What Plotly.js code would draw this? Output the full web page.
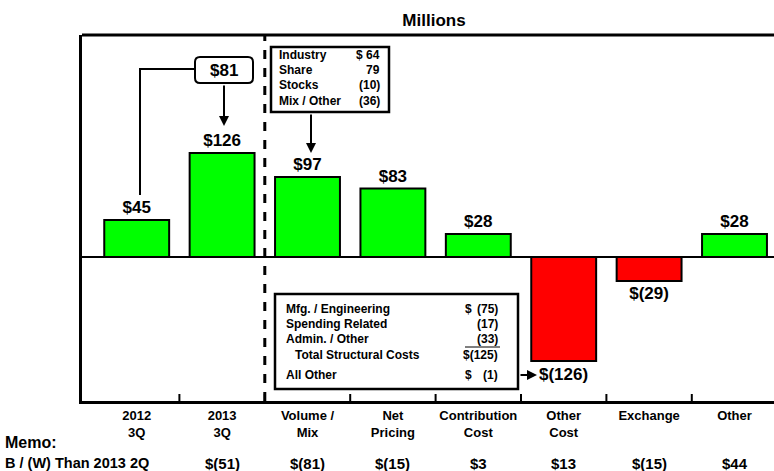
<!DOCTYPE html>
<html>
<head>
<meta charset="utf-8">
<script src="https://cdn.plot.ly/plotly-3.0.1.min.js"></script>
<style>html,body{margin:0;padding:0;background:#fff;}#chart{width:774px;height:471px;}</style>
</head>
<body>
<div id="chart"></div>
<script>
// ---- data ----
const categories = ['2012<br>3Q', '2013<br>3Q', 'Volume /<br>Mix', 'Net<br>Pricing', 'Contribution<br>Cost', 'Other<br>Cost', 'Exchange', 'Other'];
const values = [45, 126, 97, 83, 28, -126, -29, 28];
const memoLabel = 'B / (W) Than 2013 2Q';
const memoValues = [null, -51, -81, -15, 3, 13, -15, 44];
const changeCallout = 81;
const volumeLabels = ['Industry', 'Share', 'Stocks', 'Mix / Other'];
const volumeValues = ['$ 64', '79', '(10)', '(36)'];
const costLabels = ['Mfg. / Engineering', 'Spending Related', 'Admin. / Other', 'Total Structural Costs', 'All Other'];
const costValues = ['(75)', '(17)', '(33)', '$(125)', '(1)'];
const costDollar = [true, false, false, false, true];

// ---- helpers ----
const fmt = v => v < 0 ? '$(' + Math.abs(v) + ')' : '$' + v;
const FONT = 'Arial, "Liberation Sans", sans-serif';
const B = s => '<b>' + s + '</b>';

// pixel helpers for decorations (plot area: x 82..774, y 35..401)
const PX0 = 136.7, PXS = 85.4;           // category 0 centre, spacing
const Y0 = 257, YS = 0.825;                // zero line pixel, px per unit
const dx = px => (px - PX0) / PXS;
const dy = py => (Y0 - py) / YS;

const otherCostIdx = 5;
const textPos = values.map((v, i) => i === otherCostIdx ? 'none' : 'outside');

const trace = {
  type: 'bar',
  x: categories,
  y: values,
  width: 0.76,
  marker: {
    color: values.map(v => v >= 0 ? '#00FF00' : '#FF0000'),
    line: {color: '#000', width: 2}
  },
  text: values.map(v => B(fmt(v))),
  textposition: textPos,
  textfont: {family: FONT, size: 17, color: '#000'},
  cliponaxis: false,
  hoverinfo: 'none'
};

const shapes = [];
const annotations = [];

// top border
shapes.push({type: 'line', xref: 'paper', yref: 'paper', x0: 0, x1: 1, y0: 1, y1: 1, line: {color: '#000', width: 3}});
// dashed divider between 2013 3Q and Volume/Mix
shapes.push({type: 'line', xref: 'x', yref: 'paper', x0: 1.5, x1: 1.5, y0: 0, y1: 1, line: {color: '#000', width: 3, dash: 'dash'}});
// category boundary ticks (pointing up from the axis)
categories.slice(1).forEach((c, i) => {
  shapes.push({type: 'line', xref: 'x', yref: 'paper', x0: i + 0.5, x1: i + 0.5, y0: 0, y1: 7 / 366, line: {color: '#000', width: 2}});
});

// $81 callout: connector from 2012 bar up and across
shapes.push({type: 'path', xref: 'x', yref: 'y',
  path: `M ${dx(140)} ${dy(195)} L ${dx(140)} ${dy(69)} L ${dx(195)} ${dy(69)}`,
  line: {color: '#000', width: 2}});
// rounded box
(function () {
  const x0 = dx(195), x1 = dx(253), y0 = dy(83), y1 = dy(57);
  const rx = 5 / PXS, ry = 5 / YS;
  shapes.push({type: 'path', xref: 'x', yref: 'y', fillcolor: '#fff',
    path: `M ${x0 + rx} ${y1} L ${x1 - rx} ${y1} Q ${x1} ${y1} ${x1} ${y1 - ry} L ${x1} ${y0 + ry} Q ${x1} ${y0} ${x1 - rx} ${y0} L ${x0 + rx} ${y0} Q ${x0} ${y0} ${x0} ${y0 + ry} L ${x0} ${y1 - ry} Q ${x0} ${y1} ${x0 + rx} ${y1} Z`,
    line: {color: '#000', width: 2}});
})();
annotations.push({xref: 'x', yref: 'y', x: dx(224), y: dy(70), text: B(fmt(changeCallout)), showarrow: false,
  font: {family: FONT, size: 17, color: '#000'}, xanchor: 'center', yanchor: 'middle'});
annotations.push({xref: 'x', yref: 'y', x: dx(224), y: dy(126), ax: dx(224), ay: dy(84), axref: 'x', ayref: 'y',
  text: '', showarrow: true, arrowhead: 2, arrowsize: 1, arrowwidth: 2, arrowcolor: '#000'});

// Volume / Mix breakdown box
shapes.push({type: 'rect', xref: 'x', yref: 'y', x0: dx(271), x1: dx(389), y0: dy(112), y1: dy(47),
  fillcolor: '#fff', line: {color: '#000', width: 2.5}});
const volY = [55, 70, 85, 101];
volumeLabels.forEach((l, i) => {
  annotations.push({xref: 'x', yref: 'y', x: dx(277), y: dy(volY[i]), text: B(l), showarrow: false,
    xanchor: 'left', yanchor: 'middle', font: {family: FONT, size: 12, color: '#000'}});
  annotations.push({xref: 'x', yref: 'y', x: dx(382), y: dy(volY[i]), text: B(volumeValues[i]), showarrow: false,
    xanchor: 'right', yanchor: 'middle', font: {family: FONT, size: 12, color: '#000'}});
});
annotations.push({xref: 'x', yref: 'y', x: dx(311), y: dy(153), ax: dx(311), ay: dy(113), axref: 'x', ayref: 'y',
  text: '', showarrow: true, arrowhead: 2, arrowsize: 1, arrowwidth: 2, arrowcolor: '#000'});

// Other cost breakdown box
shapes.push({type: 'rect', xref: 'x', yref: 'y', x0: dx(275), x1: dx(518), y0: dy(389), y1: dy(294),
  fillcolor: '#fff', line: {color: '#000', width: 2.5}});
const costY = [309, 324, 339, 355, 375];
costLabels.forEach((l, i) => {
  annotations.push({xref: 'x', yref: 'y', x: dx(i === 3 ? 293 : 284), y: dy(costY[i]), text: B(l), showarrow: false,
    xanchor: 'left', yanchor: 'middle', font: {family: FONT, size: 12, color: '#000'}});
  annotations.push({xref: 'x', yref: 'y', x: dx(500), y: dy(costY[i]), text: B(costValues[i]), showarrow: false,
    xanchor: 'right', yanchor: 'middle', font: {family: FONT, size: 12, color: '#000'}});
  if (costDollar[i]) {
    annotations.push({xref: 'x', yref: 'y', x: dx(463), y: dy(costY[i]), text: B('$'), showarrow: false,
      xanchor: 'left', yanchor: 'middle', font: {family: FONT, size: 12, color: '#000'}});
  }
});
shapes.push({type: 'line', xref: 'x', yref: 'y', x0: dx(465), x1: dx(500), y0: dy(347), y1: dy(347), line: {color: '#000', width: 1}});
// arrow to Other Cost label
annotations.push({xref: 'x', yref: 'y', x: dx(537), y: dy(375), ax: dx(519), ay: dy(375), axref: 'x', ayref: 'y',
  text: '', showarrow: true, arrowhead: 2, arrowsize: 1, arrowwidth: 2, arrowcolor: '#000'});
annotations.push({xref: 'x', yref: 'y', x: dx(537), y: dy(374), text: B(fmt(values[otherCostIdx])), showarrow: false,
  xanchor: 'left', yanchor: 'middle', font: {family: FONT, size: 17, color: '#000'}});

// Memo rows
annotations.push({xref: 'paper', yref: 'paper', x: (3 - 82) / 692, y: (401 - 442) / 366, text: B('Memo:'), showarrow: false,
  xanchor: 'left', yanchor: 'middle', font: {family: FONT, size: 16, color: '#000'}});
annotations.push({xref: 'paper', yref: 'paper', x: (3 - 82) / 692, y: (401 - 463) / 366, text: B(memoLabel), showarrow: false,
  xanchor: 'left', yanchor: 'middle', font: {family: FONT, size: 14.5, color: '#000'}});
memoValues.forEach((v, i) => {
  if (v === null) return;
  annotations.push({xref: 'x', yref: 'paper', x: i, y: (401 - 463) / 366, text: B(fmt(v)), showarrow: false,
    xanchor: 'center', yanchor: 'middle', font: {family: FONT, size: 15, color: '#000'}});
});

const layout = {
  width: 774, height: 471,
  margin: {l: 82, r: 0, t: 35, b: 70},
  paper_bgcolor: '#fff', plot_bgcolor: '#fff',
  showlegend: false,
  font: {family: FONT, color: '#000'},
  title: {text: B('Millions'), font: {family: FONT, size: 17, color: '#000'},
    x: (434 - 82) / 692, xanchor: 'center', xref: 'paper', y: 1 - 20 / 471, yref: 'container', yanchor: 'middle'},
  xaxis: {
    type: 'category', range: [dx(82), dx(774)], fixedrange: true,
    showline: true, linewidth: 3, linecolor: '#000',
    ticks: '', tickangle: 0,
    tickfont: {family: FONT, size: 13, color: '#000', weight: 'bold'},
    showgrid: false
  },
  yaxis: {
    range: [dy(401), dy(35)], fixedrange: true,
    showline: true, linewidth: 3, linecolor: '#000',
    showticklabels: false, ticks: '', showgrid: false,
    zeroline: true, zerolinecolor: '#000', zerolinewidth: 2
  },
  shapes: shapes,
  annotations: annotations
};

Plotly.newPlot('chart', [trace], layout, {displayModeBar: false, staticPlot: true});
</script>
</body>
</html>
